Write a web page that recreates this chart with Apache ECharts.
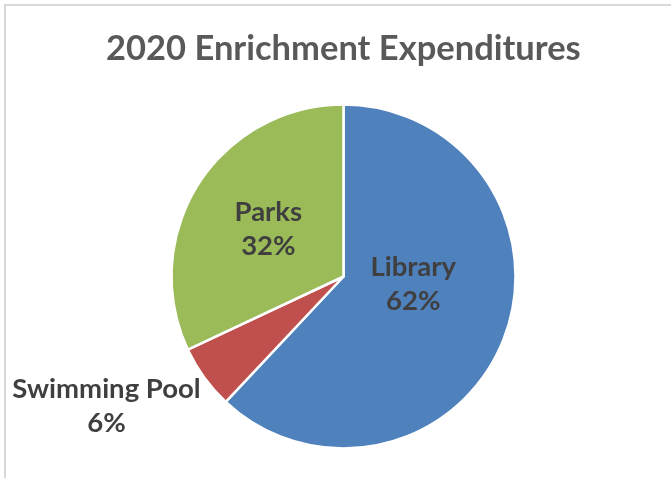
<!DOCTYPE html>
<html>
<head>
<meta charset="utf-8">
<script src="https://cdn.jsdelivr.net/npm/echarts@6/dist/echarts.min.js"></script>
<style>
html,body{margin:0;padding:0;background:#fff;}
#chart{width:671px;height:478px;}
</style>
</head>
<body>
<div id="chart"></div>
<script>
const titleText = '2020 Enrichment Expenditures';
const categories = ['Library', 'Swimming Pool', 'Parks'];
const values = [62, 6, 32];
const colors = ['#4F81BD', '#C0504D', '#9BBB59'];
const labelOffsets = [[-13, -25], [-165, 77], [0, 0]];

const chart = echarts.init(document.getElementById('chart'), null, {renderer: 'canvas'});
const data = categories.map((c, i) => ({
  name: c,
  value: values[i],
  itemStyle: {color: colors[i]},
  label: {offset: labelOffsets[i]}
}));

chart.setOption({
  backgroundColor: '#ffffff',
  animation: false,
  title: {
    text: titleText,
    left: 106,
    top: 31,
    padding: 0,
    textStyle: {
      fontFamily: 'Lato',
      fontWeight: 'bold',
      fontSize: 34.5,
      color: '#595959'
    }
  },
  graphic: [{
    type: 'rect',
    shape: {x: 5, y: 5, width: 720, height: 520},
    style: {fill: 'none', stroke: '#d9d9d9', lineWidth: 2},
    silent: true,
    z: 0
  }],
  series: [{
    type: 'pie',
    center: [343.5, 276.5],
    radius: [0, 172],
    startAngle: 90,
    clockwise: true,
    data: data,
    itemStyle: {borderColor: '#ffffff', borderWidth: 2.5},
    label: {
      show: true,
      position: 'inside',
      formatter: p => p.name + '\n' + Math.round(p.percent) + '%',
      fontFamily: 'Lato',
      fontWeight: 'bold',
      fontSize: 27.5,
      lineHeight: 34,
      color: '#3f3f3f',
      align: 'center'
    },
    labelLine: {show: false},
    emphasis: {disabled: true}
  }]
});
</script>
</body>
</html>
